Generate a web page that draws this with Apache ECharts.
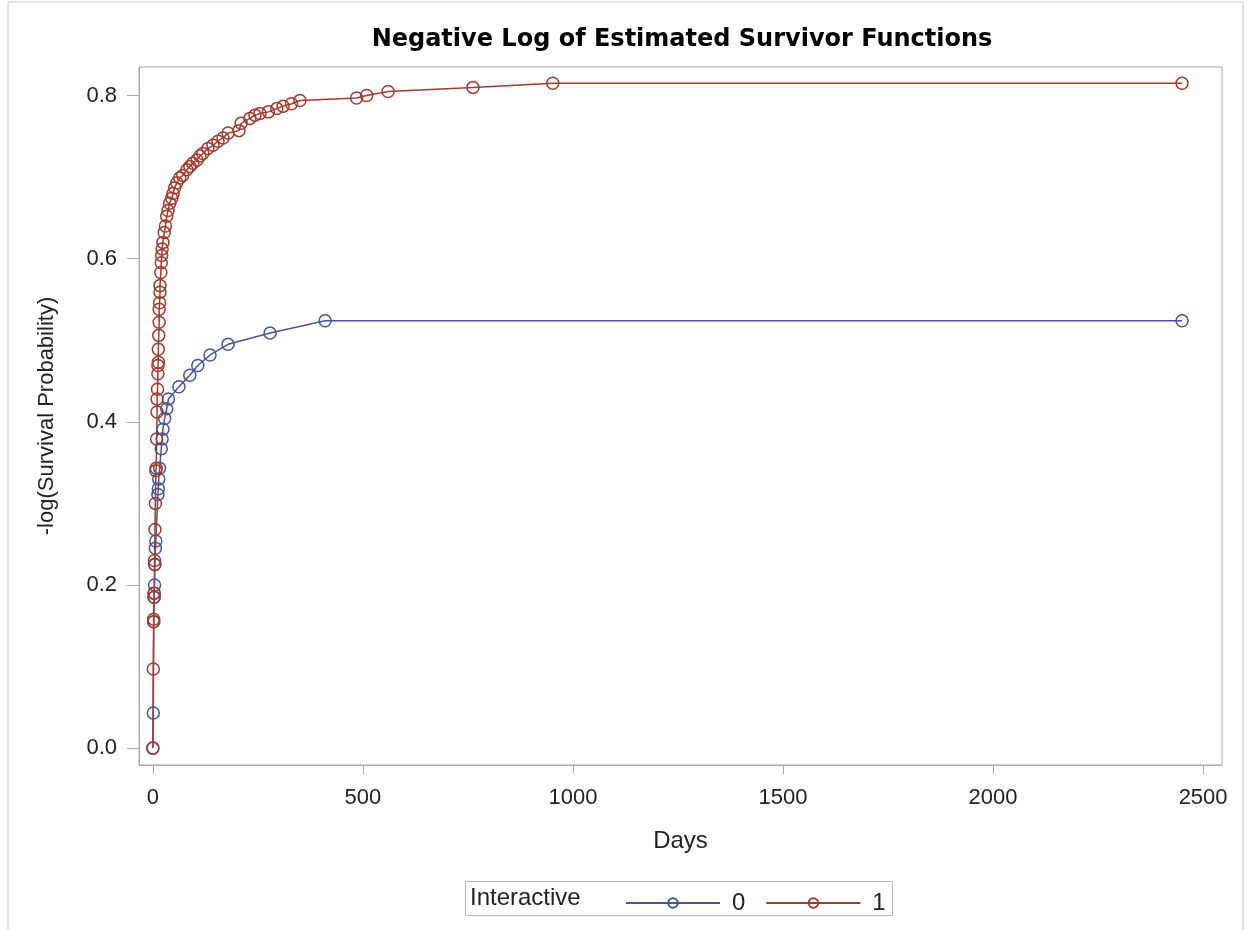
<!DOCTYPE html>
<html>
<head>
<meta charset="utf-8">
<script src="https://cdn.jsdelivr.net/npm/echarts@6/dist/echarts.min.js"></script>
<style>
  html, body { margin: 0; padding: 0; background: #fff; }
  #chart { width: 1251px; height: 930px; }
</style>
</head>
<body>
<div id="chart"></div>
<script>
// -log(S(t)) for Interactive = 0, as [days, value]
const group0 = [
  [0, 0], [1, 0.043], [2, 0.155], [3, 0.185], [3, 0.19], [4, 0.2], [5, 0.225],
  [6, 0.245], [7, 0.254], [12, 0.311], [13, 0.318], [14, 0.33], [16, 0.343],
  [20, 0.367], [22, 0.379], [24, 0.391], [28, 0.404], [33, 0.416], [37, 0.428],
  [62, 0.443], [88, 0.457], [107, 0.469], [136, 0.482], [179, 0.495],
  [279, 0.509], [410, 0.524], [2450, 0.524]
];
// -log(S(t)) for Interactive = 1
const group1 = [
  [0, 0], [1, 0.097], [2, 0.155], [2, 0.158], [3, 0.185], [3, 0.19], [4, 0.225],
  [4, 0.23], [5, 0.268], [6, 0.3], [7, 0.34], [8, 0.343], [9, 0.379], [10, 0.412],
  [10, 0.428], [11, 0.44], [12, 0.459], [12, 0.469], [13, 0.473], [13, 0.489],
  [14, 0.506], [15, 0.522], [15, 0.538], [16, 0.546], [17, 0.559], [17, 0.567],
  [19, 0.583], [20, 0.595], [21, 0.604], [22, 0.612], [24, 0.62], [27, 0.632],
  [30, 0.64], [33, 0.652], [36, 0.659], [40, 0.668], [45, 0.674], [48, 0.68],
  [52, 0.687], [57, 0.693], [64, 0.699], [71, 0.702], [81, 0.709], [88, 0.713],
  [95, 0.717], [105, 0.721], [112, 0.726], [119, 0.729], [131, 0.735],
  [143, 0.739], [155, 0.744], [167, 0.748], [179, 0.754], [205, 0.757],
  [210, 0.766], [231, 0.772], [243, 0.776], [255, 0.778], [275, 0.78],
  [295, 0.784], [310, 0.787], [330, 0.79], [350, 0.794], [485, 0.797],
  [509, 0.8], [560, 0.805], [762, 0.81], [952, 0.815], [2450, 0.815]
];
const xTicks = [0, 500, 1000, 1500, 2000, 2500];
const yTicks = [0, 0.2, 0.4, 0.6, 0.8];
const groupNames = ["0", "1"];

const font = "Liberation Sans, Arial, sans-serif";
const blue = "#445694";
const red = "#A23A2E";
const frame = "#a8a8a8";

let myChart = echarts.init(document.getElementById("chart"));

function makeSeries(name, data, color) {
  return {
    name: name,
    type: "line",
    data: data,
    symbol: "circle",
    symbolSize: 12,
    showAllSymbol: true,
    lineStyle: { color: color, width: 1.5 },
    itemStyle: { color: "rgba(255,255,255,0)", borderColor: color, borderWidth: 1.5 },
    emphasis: { disabled: true },
    animation: false,
  };
}

myChart.setOption({
  backgroundColor: "#fff",
  title: {
    text: "Negative Log of Estimated Survivor Functions",
    left: 677,
    textAlign: "center",
    top: 23,
    textStyle: { fontFamily: "DejaVu Sans", fontSize: 24, fontWeight: "bold", color: "#000" },
  },
  grid: {
    left: 139,
    right: 29,
    top: 67,
    bottom: 165,
    show: true,
    borderColor: frame,
    borderWidth: 1,
  },
  xAxis: {
    type: "value",
    min: -33,
    max: 2545,
    name: "Days",
    nameLocation: "middle",
    nameGap: 64,
    nameTextStyle: { fontFamily: font, fontSize: 24, color: "#222" },
    axisLine: { show: true, onZero: false, lineStyle: { color: frame } },
    axisTick: { show: true, length: 9, customValues: xTicks, lineStyle: { color: frame } },
    axisLabel: {
      customValues: xTicks,
      formatter: (v) => String(v),
      fontFamily: font,
      fontSize: 22,
      color: "#222",
      margin: 22,
    },
    splitLine: { show: false },
  },
  yAxis: {
    type: "value",
    min: -0.0207,
    max: 0.835,
    name: "-log(Survival Probability)",
    nameLocation: "middle",
    nameGap: 81,
    nameTextStyle: { fontFamily: font, fontSize: 22, color: "#222" },
    axisLine: { show: true, onZero: false, lineStyle: { color: frame } },
    axisTick: { show: true, length: 12, customValues: yTicks, lineStyle: { color: frame } },
    axisLabel: {
      customValues: yTicks,
      formatter: (v) => v.toFixed(1),
      fontFamily: font,
      fontSize: 22,
      color: "#222",
      margin: 22,
    },
    splitLine: { show: false },
  },
  legend: {
    data: groupNames,
    left: 620,
    top: 886,
    itemWidth: 94,
    itemHeight: 12,
    itemGap: 20,
    textStyle: { fontFamily: font, fontSize: 24, color: "#222", padding: [0, 0, 0, 7] },
    selectedMode: false,
  },
  graphic: [
    {
      type: "rect",
      shape: { x: 8, y: 2, width: 1235, height: 940 },
      style: { fill: "none", stroke: "#c8c8c8", lineWidth: 1 },
      silent: true,
    },
    {
      type: "rect",
      shape: { x: 465.5, y: 881.5, width: 427, height: 34 },
      style: { fill: "none", stroke: "#b8b8b8", lineWidth: 1 },
      silent: true,
    },
    {
      type: "text",
      x: 470,
      y: 898,
      style: {
        text: "Interactive",
        fontFamily: font,
        fontSize: 24,
        fill: "#222",
        verticalAlign: "middle",
      },
      silent: true,
    },
  ],
  series: [
    makeSeries(groupNames[0], group0, blue),
    makeSeries(groupNames[1], group1, red),
  ],
});

window.addEventListener("resize", () => {
  myChart.resize();
});
</script>
</body>
</html>
